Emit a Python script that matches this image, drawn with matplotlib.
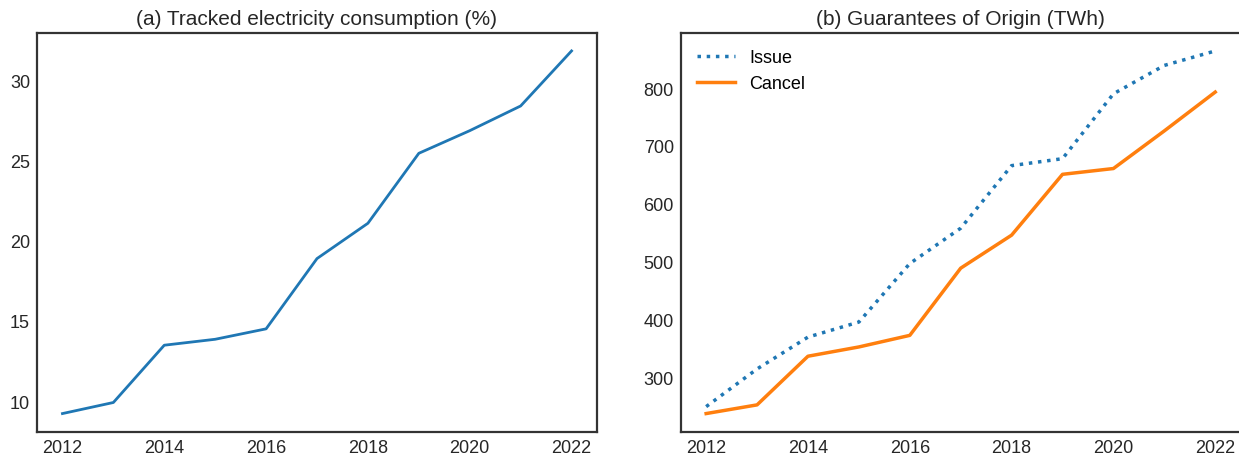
import matplotlib
matplotlib.use('Agg')
import matplotlib.pyplot as plt

plt.rcParams['font.family'] = ['Liberation Sans', 'DejaVu Sans']

years = [2012, 2013, 2014, 2015, 2016, 2017, 2018, 2019, 2020, 2021, 2022]
tracked_pct = [9.23, 9.92, 13.49, 13.86, 14.51, 18.89, 21.09, 25.45, 26.86, 28.40, 31.83]
go_issue = [250, 315, 370, 396, 497, 558, 666, 678, 790, 839, 864]
go_cancel = [238, 253, 337, 353, 373, 489, 546, 651, 661, 726, 793]

fig = plt.figure(figsize=(12.39, 4.56), dpi=100)
ax1 = fig.add_axes([37 / 1239, (456 - 432.7) / 456, 560 / 1239, (432.7 - 33.8) / 456])
ax2 = fig.add_axes([680.7 / 1239, (456 - 432.7) / 456, 560 / 1239, (432.7 - 33.8) / 456])

ax1.plot(years, tracked_pct, color='#1f77b4', linewidth=2)
ax1.set_title('(a) Tracked electricity consumption (%)', fontsize=15, color='#262626', pad=6)

ax2.plot(years, go_issue, color='#1f77b4', linewidth=2.5, linestyle=':', label='Issue')
ax2.plot(years, go_cancel, color='#ff7f0e', linewidth=2.5, label='Cancel')
ax2.set_title('(b) Guarantees of Origin (TWh)', fontsize=15, color='#262626', pad=6)
ax2.legend(loc='upper left', frameon=False, fontsize=13, handlelength=2.1)

for ax in (ax1, ax2):
    ax.set_xticks(range(2012, 2023, 2))
    ax.tick_params(labelsize=13, colors='#262626', length=0, pad=5)
    for sp in ax.spines.values():
        sp.set_color('#333333')
        sp.set_linewidth(1.6)

ax1.set_yticks([10, 15, 20, 25, 30])
ax2.set_yticks([300, 400, 500, 600, 700, 800])

fig.savefig('out.png', dpi=100, facecolor='white')
